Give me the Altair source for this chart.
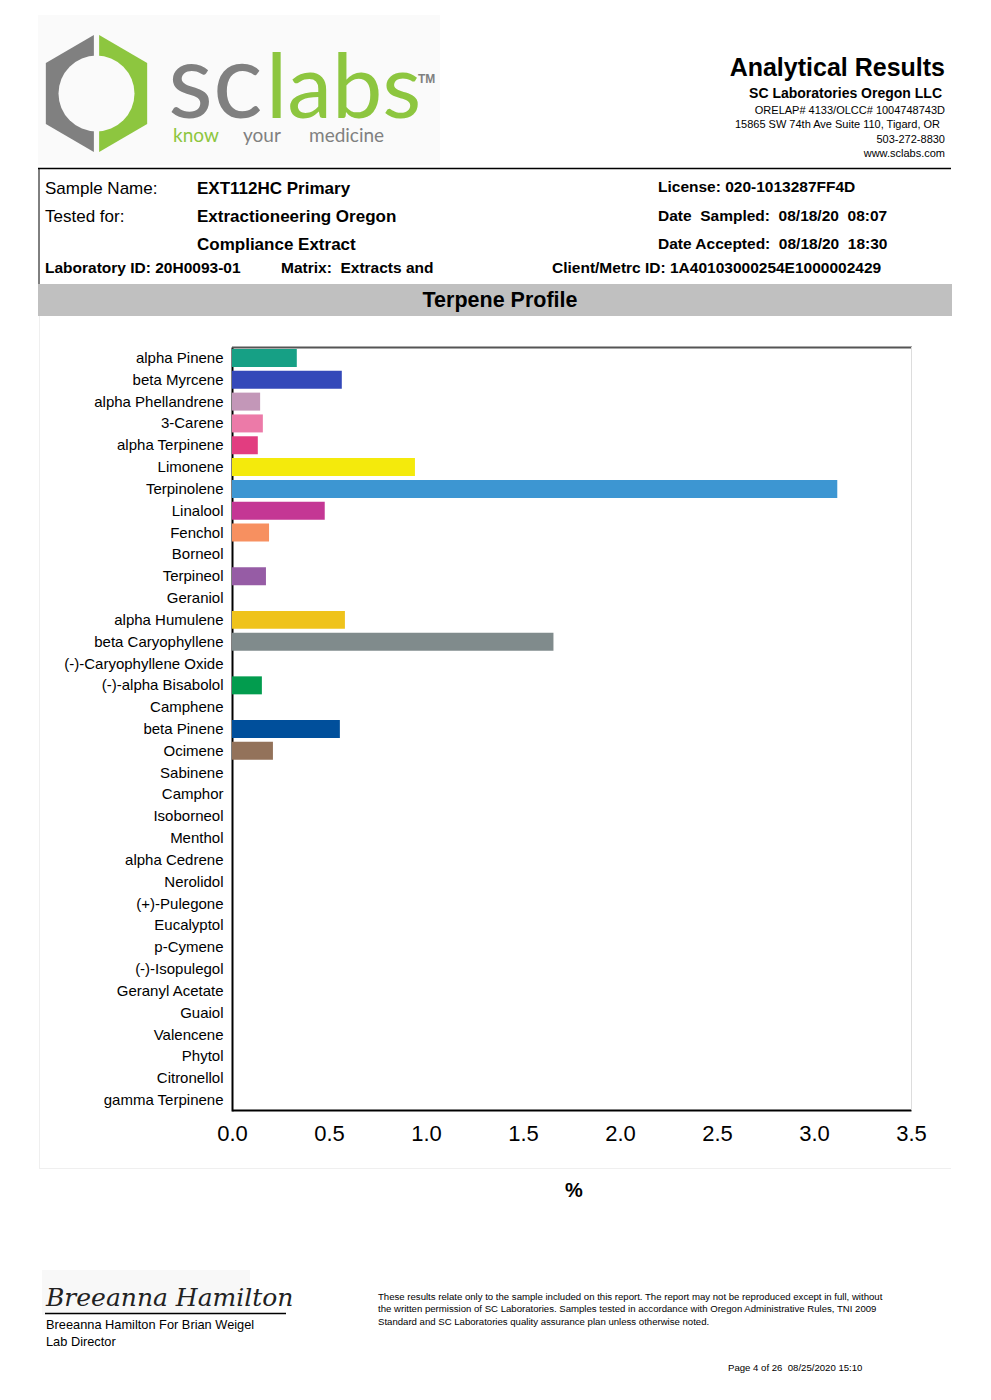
import altair as alt
import pandas as pd

# ---------------- data ----------------
terpenes = ["alpha Pinene", "beta Myrcene", "alpha Phellandrene", "3-Carene", "alpha Terpinene",
            "Limonene", "Terpinolene", "Linalool", "Fenchol", "Borneol", "Terpineol", "Geraniol",
            "alpha Humulene", "beta Caryophyllene", "(-)-Caryophyllene Oxide", "(-)-alpha Bisabolol",
            "Camphene", "beta Pinene", "Ocimene", "Sabinene", "Camphor", "Isoborneol", "Menthol",
            "alpha Cedrene", "Nerolidol", "(+)-Pulegone", "Eucalyptol", "p-Cymene", "(-)-Isopulegol",
            "Geranyl Acetate", "Guaiol", "Valencene", "Phytol", "Citronellol", "gamma Terpinene"]
percent = [0.334, 0.566, 0.145, 0.159, 0.133,
           0.943, 3.12, 0.478, 0.191, 0.0, 0.175, 0.0,
           0.582, 1.657, 0.0, 0.154,
           0.0, 0.556, 0.211, 0.0, 0.0, 0.0, 0.0,
           0.0, 0.0, 0.0, 0.0, 0.0, 0.0,
           0.0, 0.0, 0.0, 0.0, 0.0, 0.0]
bar_colors = ["#16a085", "#3449b9", "#c397b8", "#ec7aa8", "#e23d80",
              "#f4ea0c", "#3d96d2", "#c43794", "#f79060", "#7f8c8d", "#965ca5", "#7f8c8d",
              "#efc31b", "#808b8c", "#7f8c8d", "#029c4e",
              "#7f8c8d", "#004f9b", "#93725a", "#7f8c8d", "#7f8c8d", "#7f8c8d", "#7f8c8d",
              "#7f8c8d", "#7f8c8d", "#7f8c8d", "#7f8c8d", "#7f8c8d", "#7f8c8d",
              "#7f8c8d", "#7f8c8d", "#7f8c8d", "#7f8c8d", "#7f8c8d", "#7f8c8d"]
x_ticks = [0.0, 0.5, 1.0, 1.5, 2.0, 2.5, 3.0, 3.5]

header_right = ["SC Laboratories Oregon LLC", "ORELAP# 4133/OLCC# 1004748743D",
                "15865 SW 74th Ave Suite 110, Tigard, OR", "503-272-8830", "www.sclabs.com"]
disclaimer = ["These results relate only to the sample included on this report. The report may not be reproduced except in full, without",
              "the written permission of SC Laboratories. Samples tested in accordance with Oregon Administrative Rules, TNI 2009",
              "Standard and SC Laboratories quality assurance plan unless otherwise noted."]

df = pd.DataFrame({"terpene": terpenes, "percent": percent})

W, H = 975, 1384
M = 8  # page margin
FONT = "Liberation Sans"
ONE = alt.Data(values=[{"k": 1}])


def T(text, x, y, size=16, weight="normal", align="left", color="#000000",
      font=FONT, baseline="middle", style="normal"):
    return alt.Chart(ONE).mark_text(
        text=text, fontSize=size, fontWeight=weight, align=align, baseline=baseline,
        color=color, font=font, fontStyle=style
    ).encode(x=alt.value(x - M), y=alt.value(y - M))


def HR(x1, x2, y, color="#000000", width=1.0):
    return alt.Chart(ONE).mark_rule(color=color, strokeWidth=width).encode(
        x=alt.value(x1 - M), x2=alt.value(x2 - M), y=alt.value(y - M))


def VR(x, y1, y2, color="#000000", width=1.0):
    return alt.Chart(ONE).mark_rule(color=color, strokeWidth=width).encode(
        x=alt.value(x - M), y=alt.value(y1 - M), y2=alt.value(y2 - M))


def BOX(x1, y1, x2, y2, color):
    return alt.Chart(ONE).mark_rect(color=color).encode(
        x=alt.value(x1 - M), x2=alt.value(x2 - M), y=alt.value(y1 - M), y2=alt.value(y2 - M))


def SYM(path, x, y, size, color):
    return alt.Chart(ONE).mark_point(shape=path, size=size, filled=True, fill=color,
                                     stroke=None, opacity=1).encode(
        x=alt.value(x - M), y=alt.value(y - M))


layers = []

# ---- logo ----
layers.append(BOX(38, 15, 440, 165, "#fafafa"))
layers.append(SYM("M-0.045,-1L-0.866,-0.52L-0.866,0.52L-0.045,1Z", 96.5, 93.5, 117 * 117, "#808080"))
layers.append(SYM("M0.045,-1L0.866,-0.52L0.866,0.52L0.045,1Z", 96.5, 93.5, 117 * 117, "#8dc63f"))
layers.append(SYM("circle", 96.5, 93.5, 76 * 76, "#fafafa"))
layers.append(T("sc", 168, 118, size=104, color="#808080", font="Lato", baseline="alphabetic"))
layers.append(T("labs", 266, 118, size=90, color="#8dc63f", font="Lato", baseline="alphabetic"))
layers.append(T("TM", 418, 79, size=12, weight="bold", color="#808080"))
layers.append(T("know", 173, 136, size=19, color="#8dc63f", font="Lato"))
layers.append(T("your", 243, 136, size=19, color="#808080", font="Lato"))
layers.append(T("medicine", 309, 136, size=19, color="#808080", font="Lato"))

# ---- header right ----
layers.append(T("Analytical Results", 945, 68, size=25, weight="bold", align="right"))
layers.append(T(header_right[0], 942, 94, size=14, weight="bold", align="right"))
layers.append(T(header_right[1], 945, 111, size=11, align="right"))
layers.append(T(header_right[2], 940, 125, size=11, align="right"))
layers.append(T(header_right[3], 945, 140, size=11, align="right"))
layers.append(T(header_right[4], 945, 154, size=11, align="right"))

# ---- info block ----
layers.append(HR(38, 951, 168.5, width=1.5))
layers.append(VR(39, 168, 284))
layers.append(T("Sample Name:", 45, 188.5, size=17))
layers.append(T("Tested for:", 45, 216.5, size=17))
layers.append(T("EXT112HC Primary", 197, 188.5, size=17, weight="bold"))
layers.append(T("Extractioneering Oregon", 197, 216.5, size=17, weight="bold"))
layers.append(T("Compliance Extract", 197, 244.5, size=17, weight="bold"))
layers.append(T("Laboratory ID: 20H0093-01", 45, 268, size=15.5, weight="bold"))
layers.append(T("Matrix:\u00a0 Extracts and", 281, 268, size=15.5, weight="bold"))
layers.append(T("License: 020-1013287FF4D", 658, 186.5, size=15.5, weight="bold"))
layers.append(T("Date\u00a0 Sampled:\u00a0 08/18/20\u00a0 08:07", 658, 215.5, size=15.5, weight="bold"))
layers.append(T("Date Accepted:\u00a0 08/18/20\u00a0 18:30", 658, 243.5, size=15.5, weight="bold"))
layers.append(T("Client/Metrc ID: 1A40103000254E1000002429", 552, 268, size=15.5, weight="bold"))

# ---- section band ----
layers.append(BOX(38, 284, 952, 316, "#c0c0c0"))
layers.append(T("Terpene Profile", 500, 300.5, size=21.5, weight="bold", align="center"))

# ---- chart frame (faint outer box) ----
layers.append(VR(39.5, 316, 1168, color="#efefef"))
layers.append(HR(39, 951, 1168.5, color="#efefef"))

# ---- bar chart ----
bars = alt.Chart(df).mark_bar().encode(
    x=alt.X("percent:Q",
            scale=alt.Scale(domain=[0, 3.5], range=[232 - M, 911 - M], nice=False, zero=True),
            axis=alt.Axis(values=x_ticks, format=".1f", offset=-(H - (1110 - M)),
                          labelFontSize=22, labelFont=FONT, labelColor="#000000",
                          labelPadding=13, labelFlush=False, labelOverlap=False,
                          domainColor="#000000", domainWidth=2, ticks=False,
                          grid=False, title=None)),
    y=alt.Y("terpene:N", sort=terpenes,
            scale=alt.Scale(range=[347 - M, 1111 - M], paddingInner=0.176, paddingOuter=0.09),
            axis=alt.Axis(offset=-(232 - M), labelFontSize=15, labelFont=FONT,
                          labelColor="#000000", labelPadding=9, labelOverlap=False,
                          domainColor="#000000", domainWidth=2, ticks=False,
                          grid=False, title=None)),
    color=alt.Color("terpene:N", scale=alt.Scale(domain=terpenes, range=bar_colors), legend=None),
)
layers.append(HR(232, 912, 347.5, color="#555555", width=2))
layers.append(VR(911.5, 347, 1110, color="#dddddd"))
layers.append(bars)
layers.append(T("%", 574, 1191, size=20, weight="bold", align="center"))

# ---- footer ----
layers.append(BOX(42, 1270, 250, 1315, "#f8f8f8"))
layers.append(T("Breeanna Hamilton", 46, 1306, size=25, color="#222222", font="DejaVu Serif",
                style="italic", baseline="alphabetic"))
layers.append(HR(45, 286, 1313.5, width=1.5))
layers.append(T("Breeanna Hamilton For Brian Weigel", 46, 1325, size=12.8))
layers.append(T("Lab Director", 46, 1342, size=12.8))
layers.append(T(disclaimer[0], 378, 1297, size=9.6))
layers.append(T(disclaimer[1], 378, 1309, size=9.6))
layers.append(T(disclaimer[2], 378, 1322, size=9.6))
layers.append(T("Page 4 of 26\u00a0 08/25/2020 15:10", 728, 1368, size=9.6))

chart = alt.layer(*layers).properties(
    width=W, height=H, padding=0,
    autosize=alt.AutoSizeParams(type="none"),
    background="#ffffff",
).configure_view(stroke=None)

chart.save("out.html", embed_options={"renderer": "svg", "actions": False})
